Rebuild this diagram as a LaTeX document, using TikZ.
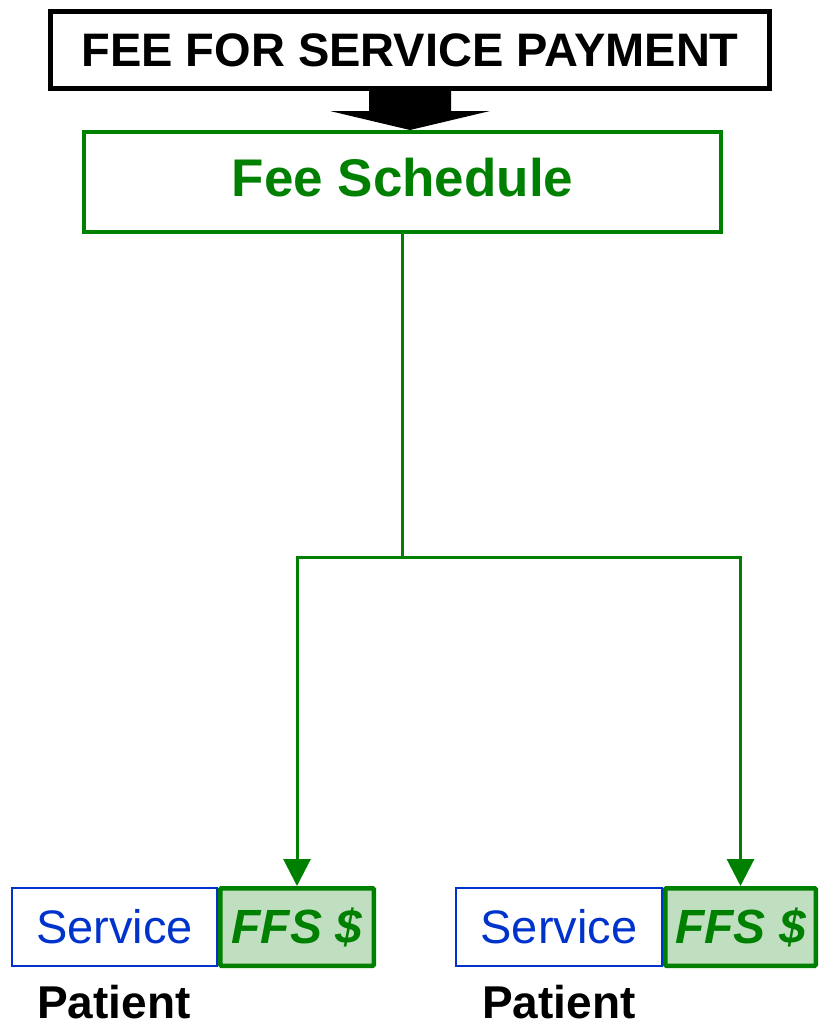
\documentclass[tikz,border=0pt]{standalone}
\usepackage{fontspec}
\setmainfont{Liberation Sans}
\usetikzlibrary{arrows.meta}
\definecolor{fgreen}{RGB}{0,128,0}
\definecolor{lgreen}{RGB}{192,223,192}
\definecolor{sblue}{RGB}{0,51,204}
\tikzset{
  topbox/.style={draw=black,line width=5pt,minimum width=719pt,minimum height=77pt,inner sep=0pt,font=\fontsize{47}{50}\selectfont\bfseries},
  feebox/.style={draw=fgreen,line width=3.5pt,minimum width=637pt,minimum height=100pt,inner sep=0pt,text=fgreen,text depth=9pt,font=\fontsize{53}{56}\selectfont\bfseries},
  servbox/.style={draw=sblue,line width=2pt,minimum height=78pt,inner sep=0pt,text=sblue,font=\fontsize{47}{50}\selectfont},
  ffsbox/.style={draw=fgreen,fill=lgreen,line width=4.5pt,minimum height=77.5pt,inner sep=0pt,text=fgreen,font=\fontsize{48}{50}\selectfont\bfseries\itshape,rounded corners=1pt},
  patlabel/.style={anchor=base west,inner sep=0pt,font=\fontsize{46}{48}\selectfont\bfseries},
  gline/.style={draw=fgreen,line width=3pt},
  garrow/.style={gline,-{Triangle[length=27pt,width=27pt]}}
}
\begin{document}
\begin{tikzpicture}[x=1pt,y=-1pt]
\useasboundingbox (0,0) rectangle (819,1029);
\node[topbox] (top) at (410,50) {FEE FOR SERVICE PAYMENT};
\node[feebox] (fs) at (402.5,182) {Fee Schedule};
\node[servbox,minimum width=205pt] (s1) at (114.5,927) {Service};
\node[ffsbox,minimum width=153.5pt] (f1) at (297,927) {FFS \$};
\node[servbox,minimum width=206pt] (s2) at (559,927) {Service};
\node[ffsbox,minimum width=150.5pt] (f2) at (740.5,927) {FFS \$};
\node[patlabel] (p1) at (37,1018) {Patient};
\node[patlabel] (p2) at (482,1018) {Patient};
% block arrow
\fill[black] (369,91) -- (451,91) -- (451,111) -- (490,111) -- (410,130) -- (330,111) -- (369,111) -- cycle;
% connectors
\coordinate (j) at (fs.south |- 0,557);
\draw[gline] (fs.south) -- (j);
\draw[garrow] (j) -| (f1.north);
\draw[garrow] (j) -| (f2.north);
\end{tikzpicture}
\end{document}
